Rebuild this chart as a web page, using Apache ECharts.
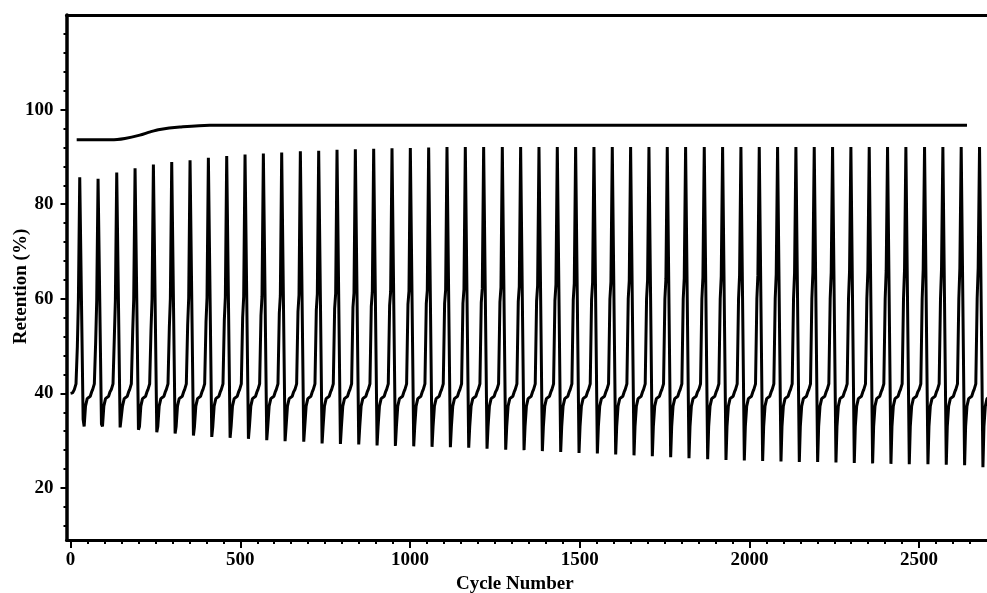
<!DOCTYPE html>
<html>
<head>
<meta charset="utf-8">
<script src="https://cdn.jsdelivr.net/npm/echarts@6/dist/echarts.min.js"></script>
<style>
  html, body { margin: 0; padding: 0; background: #fff; }
  #chart { width: 987px; height: 593px; }
</style>
</head>
<body>
<div id="chart"></div>
<script>
// Cycle at which each retention spike peaks
const peakCycles = [27, 81, 136, 190, 244, 298, 352, 406, 460, 514,
  568, 622, 677, 731, 785, 839, 893, 947, 1001, 1055,
  1109, 1163, 1217, 1272, 1326, 1380, 1434, 1488, 1542, 1596,
  1650, 1704, 1758, 1812, 1867, 1921, 1975, 2029, 2083, 2137,
  2191, 2245, 2299, 2353, 2407, 2461, 2516, 2570, 2624, 2678];

// Retention (%) at the top of each spike
const peakValues = [85.7, 85.4, 86.7, 87.6, 88.4, 88.9, 89.3, 89.8, 90.2, 90.5,
  90.7, 90.9, 91.2, 91.3, 91.5, 91.6, 91.7, 91.8, 91.9, 92.0,
  92.1, 92.1, 92.1, 92.1, 92.1, 92.1, 92.1, 92.1, 92.1, 92.1,
  92.1, 92.1, 92.1, 92.1, 92.1, 92.1, 92.1, 92.1, 92.1, 92.1,
  92.1, 92.1, 92.1, 92.1, 92.1, 92.1, 92.1, 92.1, 92.1, 92.1];

// Retention (%) at the dip right after each spike
const troughValues = [34.5, 33.5, 32.8, 32.3, 31.8, 31.5, 31.1, 30.8, 30.6, 30.4,
  30.1, 29.9, 29.8, 29.4, 29.3, 29.2, 29.0, 28.9, 28.8, 28.7,
  28.6, 28.5, 28.3, 28.1, 28.0, 27.8, 27.6, 27.4, 27.3, 27.1,
  26.9, 26.7, 26.5, 26.3, 26.1, 25.9, 25.8, 25.7, 25.6, 25.5,
  25.5, 25.4, 25.3, 25.2, 25.1, 25.0, 25.0, 24.9, 24.8, 24.4];

// Shoulder on the rising edge of each spike (lower and upper level, %)
const shoulderLow = [50.0, 51.0, 52.0, 53.0, 53.5, 54.0, 54.5, 55.0, 55.5, 56.0,
  56.5, 57.0, 57.3, 57.6, 57.9, 58.2, 58.4, 58.6, 58.8, 59.0,
  59.0, 59.0, 59.2, 59.3, 59.4, 59.5, 59.6, 59.7, 59.8, 59.9,
  60.0, 60.0, 60.0, 60.0, 60.0, 60.0, 60.0, 60.0, 60.0, 60.0,
  60.0, 60.0, 60.0, 60.0, 60.0, 60.0, 60.0, 60.0, 60.0, 60.0];
const shoulderHigh = [59.6, 59.6, 59.7, 59.8, 59.9, 60.0, 60.1, 60.2, 60.3, 60.4,
  60.5, 60.6, 60.8, 61.0, 61.1, 61.2, 61.4, 61.5, 61.6, 61.8,
  61.9, 62.0, 62.2, 62.4, 62.6, 62.8, 63.0, 63.2, 63.4, 63.6,
  63.8, 64.0, 64.2, 64.3, 64.5, 64.7, 64.9, 65.0, 65.2, 65.4,
  65.5, 65.6, 65.8, 65.9, 66.0, 66.1, 66.2, 66.3, 66.4, 66.5];

// Shape shared by every period: offsets in cycles from the peak and the retention (%) there
const startPoints = [[0, 40.0], [6, 40.1]];
const riseOffsets = [-16, -11];
const riseLevels = [40.8, 42.0];
const shoulderOffsets = [-7, -4];
const troughOffset = 10;
const recoveryOffsets = [13, 17, 22, 31, 35];
const recoveryLevels = [33.0, 37.3, 38.9, 39.4, 40.3];

// Upper trace (efficiency, %)
const efficiencyCycles = [18, 120, 160, 204, 235, 263, 322, 410, 2641];
const efficiencyValues = [93.6, 93.6, 93.9, 94.6, 95.3, 95.8, 96.3, 96.7, 96.7];

// Tick positions
const xMajorTicks = [0, 500, 1000, 1500, 2000, 2500];
const yMajorTicks = [20, 40, 60, 80, 100];

const xMinorTicks = [];
for (let v = 50; v <= 2650; v += 50) if (v % 500 !== 0) xMinorTicks.push(v);
const yMinorTicks = [];
for (let v = 12; v <= 116; v += 4) if (v % 20 !== 0) yMinorTicks.push(v);

// Assemble the retention trace period by period
const retention = startPoints.map(p => p.slice());
peakCycles.forEach((p, i) => {
  riseOffsets.forEach((o, k) => retention.push([p + o, riseLevels[k]]));
  retention.push([p + shoulderOffsets[0], shoulderLow[i]]);
  retention.push([p + shoulderOffsets[1], shoulderHigh[i]]);
  retention.push([p, peakValues[i]]);
  retention.push([p + troughOffset, troughValues[i]]);
  recoveryOffsets.forEach((o, k) => retention.push([p + o, recoveryLevels[k]]));
});

const efficiency = efficiencyCycles.map((c, i) => [c, efficiencyValues[i]]);

const font = {
  fontFamily: "'Liberation Serif', 'Times New Roman', serif",
  fontWeight: 'bold',
  fontSize: 19,
  color: '#000'
};
const plainNumber = v => String(v);
const gridBox = { left: 66.5, right: 0, top: 15, bottom: 53, containLabel: false, outerBoundsMode: 'none' };
const xRange = { min: -12, max: 2700 };
const yRange = { min: 9, max: 120 };

const chart = echarts.init(document.getElementById('chart'), null, { renderer: 'canvas' });
chart.setOption({
  animation: false,
  backgroundColor: '#fff',
  grid: [Object.assign({}, gridBox), Object.assign({}, gridBox)],
  xAxis: [
    Object.assign({
      gridIndex: 0, type: 'value', position: 'bottom',
      axisLine: { show: true, onZero: false, lineStyle: { color: '#000', width: 3 } },
      axisTick: { show: true, customValues: xMajorTicks, length: 8, lineStyle: { color: '#000', width: 2 } },
      axisLabel: Object.assign({ customValues: xMajorTicks, margin: 11, formatter: plainNumber }, font),
      splitLine: { show: false },
      name: 'Cycle Number', nameLocation: 'middle', nameGap: 33,
      nameTextStyle: Object.assign({ padding: [0, 24, 0, 0] }, font)
    }, xRange),
    Object.assign({
      gridIndex: 0, type: 'value', position: 'top',
      axisLine: { show: true, onZero: false, lineStyle: { color: '#000', width: 3 } },
      axisTick: { show: false }, axisLabel: { show: false }, splitLine: { show: false }
    }, xRange),
    Object.assign({
      gridIndex: 1, type: 'value', position: 'bottom',
      axisLine: { show: false, onZero: false },
      axisTick: { show: true, customValues: xMinorTicks, length: 4, lineStyle: { color: '#000', width: 2 } },
      axisLabel: { show: false }, splitLine: { show: false }
    }, xRange)
  ],
  yAxis: [
    Object.assign({
      gridIndex: 0, type: 'value', position: 'left',
      axisLine: { show: true, onZero: false, lineStyle: { color: '#000', width: 3.5 } },
      axisTick: { show: true, customValues: yMajorTicks, length: 6, lineStyle: { color: '#000', width: 2 } },
      axisLabel: Object.assign({ customValues: yMajorTicks, margin: 13, formatter: plainNumber }, font),
      splitLine: { show: false },
      name: 'Retention (%)', nameLocation: 'middle', nameGap: 36, nameRotate: 90,
      nameMoveOverlap: false,
      nameTextStyle: Object.assign({ padding: [0, 18, 0, 0] }, font)
    }, yRange),
    Object.assign({
      gridIndex: 1, type: 'value', position: 'left',
      axisLine: { show: false, onZero: false },
      axisTick: { show: true, customValues: yMinorTicks, length: 3, lineStyle: { color: '#000', width: 2 } },
      axisLabel: { show: false }, splitLine: { show: false }
    }, yRange)
  ],
  series: [
    {
      type: 'line', xAxisIndex: 0, yAxisIndex: 0,
      data: efficiency, showSymbol: false, symbol: 'none', smooth: 0.3,
      lineStyle: { color: '#000', width: 3 }
    },
    {
      type: 'line', xAxisIndex: 0, yAxisIndex: 0,
      data: retention, showSymbol: false, symbol: 'none',
      lineStyle: { color: '#000', width: 3 }
    }
  ]
});
</script>
</body>
</html>
